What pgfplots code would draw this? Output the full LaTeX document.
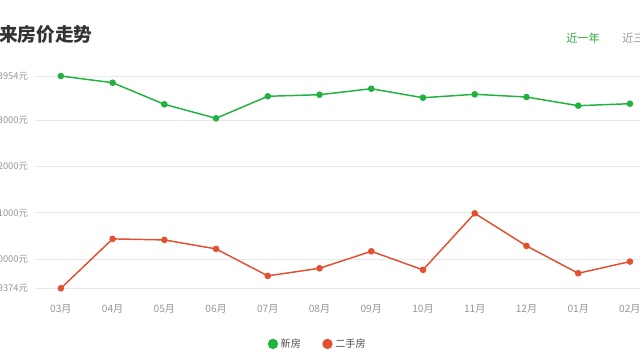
\documentclass[border=0pt]{standalone}
\usepackage{fontspec}
\setmainfont{Noto Sans CJK SC}
\usepackage{pgfplots}
\pgfplotsset{compat=1.18}
\definecolor{gline}{RGB}{34,178,64}
\definecolor{rline}{RGB}{226,80,48}
\definecolor{ticktxt}{RGB}{150,150,150}
\definecolor{gridc}{RGB}{233,233,233}
\definecolor{titletxt}{RGB}{51,51,51}
\definecolor{tabgreen}{RGB}{40,170,60}
\begin{document}
\begin{tikzpicture}
\useasboundingbox (0pt,-270pt) rectangle (480pt,0pt);
\begin{scope}[overlay]
\clip (0pt,-270pt) rectangle (480pt,0pt);
\begin{axis}[at={(26.25pt,-216.225pt)}, anchor=south west, scale only axis,
  width=465.6pt, height=159.2pt,
  xmin=-0.5, xmax=11.5, ymin=19374, ymax=23954,
  scaled y ticks=false,
  xtick={0,...,11},
  xticklabels={03月,04月,05月,06月,07月,08月,09月,10月,11月,12月,01月,02月},
  ytick={19374,20000,21000,22000,23000,23954},
  yticklabels={19374元,20000元,21000元,22000元,23000元,23954元},
  ymajorgrids, grid style={gridc, line width=0.75pt},
  axis line style={draw=none},
  xtick style={draw=none}, ytick style={draw=none},
  major tick length=0pt,
  clip=false,
  ticklabel style={font=\fontsize{7.6}{9}\selectfont, text=ticktxt},
  yticklabel style={anchor=east, xshift=-1.8pt, font=\fontsize{7}{9}\selectfont},
  xticklabel style={anchor=north, yshift=-9pt},
  legend style={at={(0.456,-0.262)}, anchor=center, draw=none, fill=none,
    legend columns=2, font=\fontsize{7.6}{9}\selectfont, text=black!70,
    /tikz/every even column/.append style={column sep=14pt}},
  legend image code/.code={\fill[#1] (0.2cm,0) circle (3.3pt);},
]
\addplot[gline, line width=1.1pt, mark=*, mark size=1.9pt] coordinates {
(0,23954) (1,23810) (2,23344) (3,23042) (4,23517) (5,23551)
(6,23680) (7,23486) (8,23560) (9,23501) (10,23314) (11,23357)};
\addlegendentry{新房}
\addplot[rline, line width=1.1pt, mark=*, mark size=1.9pt] coordinates {
(0,19374) (1,20440) (2,20418) (3,20224) (4,19642) (5,19806)
(6,20172) (7,19772) (8,20991) (9,20289) (10,19698) (11,19950)};
\addlegendentry{二手房}
\end{axis}
\node[anchor=west, inner sep=0pt, font=\fontsize{14}{16}\selectfont\bfseries, text=titletxt] at (-0.75pt,-26.25pt) {来房价走势};
\node[anchor=west, inner sep=0pt, font=\fontsize{8.4}{10}\selectfont, text=tabgreen] at (424.5pt,-28.5pt) {近一年};
\node[anchor=west, inner sep=0pt, font=\fontsize{8.4}{10}\selectfont, text=ticktxt] at (466.5pt,-28.5pt) {近三年};
\end{scope}
\end{tikzpicture}
\end{document}
